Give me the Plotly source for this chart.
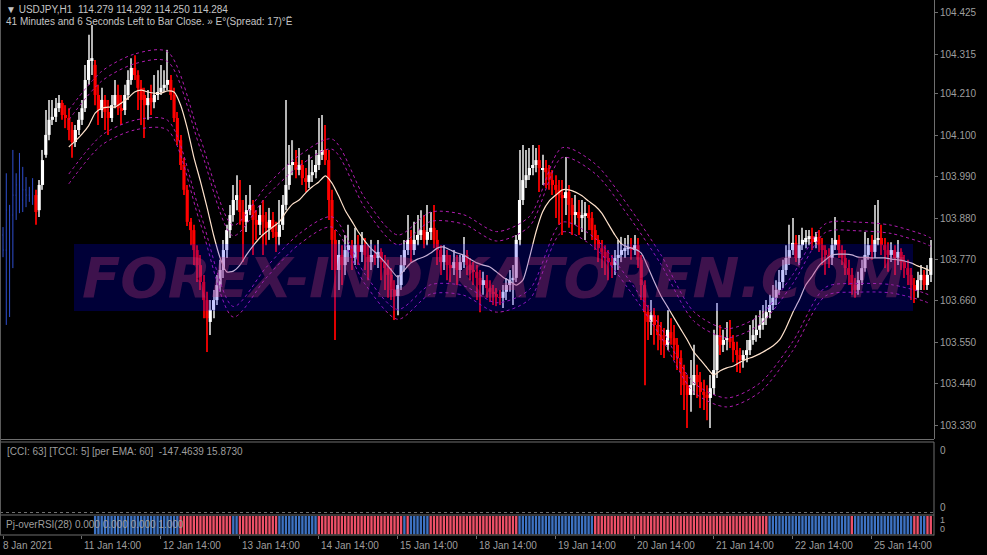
import plotly.graph_objects as go

W, H = 987, 555

# ---------------- data ----------------
opens = [
    103.835, 103.795, 103.901, 103.888, 103.941, 103.968, 103.928, 103.955, 103.941, 103.933,
    103.941, 103.901, 103.968, 104.048, 104.101, 104.141, 104.149, 104.172, 104.186, 104.154,
    104.146, 104.114, 104.082, 104.114, 104.141, 104.172, 104.247, 104.300, 104.287, 104.207,
    104.167, 104.194, 104.162, 104.146, 104.180, 104.207, 104.172, 104.167, 104.207, 104.247,
    104.279, 104.260, 104.226, 104.207, 104.180, 104.199, 104.188, 104.207, 104.215, 104.226,
    104.234, 104.247, 104.207, 104.146, 104.087, 104.021, 103.955, 103.870, 103.848, 103.795,
    103.755, 103.710, 103.662, 103.604, 103.636, 103.662, 103.702, 103.742, 103.795, 103.848,
    103.888, 103.928, 103.928, 103.896, 103.870, 103.901, 103.915, 103.875, 103.862, 103.888,
    103.870, 103.854, 103.875, 103.843, 103.830, 103.862, 103.915, 103.968, 104.021, 104.029,
    104.008, 104.021, 103.986, 103.976, 103.994, 104.002, 104.021, 104.048, 104.061, 104.034,
    103.928, 103.822, 103.742, 103.782, 103.755, 103.795, 103.808, 103.774, 103.808, 103.790,
    103.808, 103.782, 103.763, 103.782, 103.774, 103.790, 103.763, 103.747, 103.729, 103.689,
    103.673, 103.702, 103.755, 103.795, 103.822, 103.795, 103.822, 103.835, 103.848, 103.822,
    103.843, 103.854, 103.822, 103.795, 103.763, 103.782, 103.755, 103.747, 103.763, 103.742,
    103.763, 103.782, 103.755, 103.742, 103.737, 103.721, 103.702, 103.715, 103.694, 103.684,
    103.678, 103.670, 103.668, 103.684, 103.702, 103.715, 103.721, 103.822, 103.928, 103.981,
    103.994, 104.013, 104.021, 104.034, 104.008, 104.013, 104.002, 103.981, 103.968, 103.955,
    103.941, 103.933, 103.949, 103.915, 103.888, 103.896, 103.880, 103.888, 103.893, 103.880,
    103.848, 103.822, 103.800, 103.790, 103.774, 103.763, 103.755, 103.774, 103.782, 103.795,
    103.800, 103.803, 103.795, 103.808, 103.769, 103.702, 103.630, 103.604, 103.622, 103.596,
    103.569, 103.556, 103.543, 103.577, 103.561, 103.543, 103.508, 103.471, 103.436, 103.410,
    103.436, 103.463, 103.444, 103.418, 103.410, 103.402, 103.428, 103.476, 103.569, 103.543,
    103.556, 103.561, 103.551, 103.529, 103.516, 103.503, 103.516, 103.529, 103.556, 103.569,
    103.583, 103.596, 103.614, 103.630, 103.649, 103.668, 103.689, 103.710, 103.742, 103.774,
    103.795, 103.814, 103.774, 103.808, 103.816, 103.827, 103.832, 103.816, 103.830, 103.808,
    103.795, 103.782, 103.774, 103.808, 103.822, 103.795, 103.774, 103.747, 103.729, 103.702,
    103.689, 103.715, 103.747, 103.782, 103.808, 103.790, 103.822, 103.827, 103.808, 103.795,
    103.782, 103.795, 103.774, 103.790, 103.763, 103.747, 103.729, 103.702, 103.689, 103.715,
    103.729, 103.702, 103.729,
]
highs = [
    103.856, 103.999, 103.915, 104.061, 103.999, 104.053, 104.016, 103.989, 103.963, 103.986,
    103.955, 103.981, 104.061, 104.167, 104.194, 104.194, 104.199, 104.207, 104.194, 104.180,
    104.172, 104.135, 104.127, 104.162, 104.194, 104.287, 104.367, 104.393, 104.300, 104.234,
    104.226, 104.207, 104.194, 104.207, 104.247, 104.234, 104.207, 104.234, 104.273, 104.305,
    104.313, 104.273, 104.247, 104.226, 104.220, 104.234, 104.260, 104.273, 104.287, 104.273,
    104.327, 104.260, 104.226, 104.162, 104.101, 104.040, 103.968, 103.880, 103.862, 103.808,
    103.782, 103.729, 103.684, 103.662, 103.689, 103.729, 103.769, 103.822, 103.862, 103.915,
    103.968, 103.994, 103.981, 103.928, 103.941, 103.968, 103.928, 103.901, 103.915, 103.928,
    103.896, 103.907, 103.896, 103.870, 103.928, 103.941, 104.194, 104.074, 104.087, 104.061,
    104.066, 104.034, 104.013, 104.048, 104.034, 104.061, 104.146, 104.154, 104.127, 104.061,
    103.955, 103.848, 103.822, 103.808, 103.835, 103.862, 103.822, 103.854, 103.835, 103.843,
    103.827, 103.808, 103.822, 103.808, 103.822, 103.800, 103.782, 103.769, 103.747, 103.715,
    103.729, 103.782, 103.822, 103.888, 103.848, 103.870, 103.888, 103.901, 103.888, 103.915,
    103.896, 103.915, 103.848, 103.808, 103.808, 103.795, 103.782, 103.795, 103.782, 103.782,
    103.830, 103.795, 103.774, 103.763, 103.755, 103.742, 103.737, 103.729, 103.715, 103.702,
    103.694, 103.689, 103.702, 103.721, 103.742, 103.755, 103.835, 104.061, 104.074, 104.061,
    104.066, 104.074, 104.066, 104.074, 104.048, 104.034, 104.021, 104.008, 103.994, 103.981,
    103.981, 104.042, 103.968, 103.933, 103.941, 103.928, 103.928, 103.923, 103.915, 103.896,
    103.862, 103.835, 103.822, 103.808, 103.795, 103.782, 103.795, 103.822, 103.830, 103.827,
    103.835, 103.827, 103.835, 103.827, 103.782, 103.715, 103.649, 103.662, 103.641, 103.622,
    103.604, 103.588, 103.636, 103.614, 103.596, 103.561, 103.529, 103.490, 103.463, 103.503,
    103.543, 103.490, 103.471, 103.450, 103.436, 103.463, 103.583, 103.654, 103.596, 103.583,
    103.604, 103.609, 103.569, 103.551, 103.535, 103.529, 103.556, 103.596, 103.609, 103.622,
    103.636, 103.649, 103.662, 103.676, 103.702, 103.715, 103.742, 103.769, 103.808, 103.862,
    103.880, 103.835, 103.835, 103.854, 103.848, 103.848, 103.854, 103.843, 103.848, 103.827,
    103.808, 103.800, 103.827, 103.883, 103.835, 103.808, 103.795, 103.769, 103.747, 103.721,
    103.737, 103.769, 103.843, 103.827, 103.835, 103.915, 103.928, 103.862, 103.827, 103.816,
    103.816, 103.808, 103.822, 103.800, 103.782, 103.769, 103.747, 103.721, 103.737, 103.755,
    103.742, 103.755, 103.822,
]
lows = [
    103.776, 103.596, 103.617, 103.747, 103.875, 103.893, 103.896, 103.909, 103.923, 103.915,
    103.862, 103.883, 103.955, 104.040, 104.087, 104.127, 104.135, 104.162, 104.141, 104.119,
    104.087, 104.040, 104.069, 104.101, 104.127, 104.162, 104.234, 104.260, 104.180, 104.127,
    104.146, 104.114, 104.101, 104.135, 104.172, 104.154, 104.127, 104.154, 104.194, 104.234,
    104.247, 104.167, 104.127, 104.093, 104.141, 104.154, 104.172, 104.194, 104.207, 104.215,
    104.220, 104.194, 104.135, 104.074, 104.008, 103.941, 103.859, 103.808, 103.755, 103.710,
    103.689, 103.614, 103.524, 103.569, 103.614, 103.649, 103.684, 103.721, 103.774, 103.827,
    103.870, 103.901, 103.862, 103.763, 103.843, 103.888, 103.782, 103.822, 103.835, 103.782,
    103.808, 103.822, 103.827, 103.790, 103.808, 103.848, 103.901, 103.955, 103.994, 103.986,
    103.994, 103.968, 103.949, 103.960, 103.976, 103.986, 104.008, 104.034, 104.021, 103.875,
    103.742, 103.556, 103.689, 103.702, 103.729, 103.763, 103.742, 103.755, 103.755, 103.763,
    103.742, 103.715, 103.742, 103.755, 103.747, 103.715, 103.689, 103.668, 103.662, 103.609,
    103.622, 103.689, 103.737, 103.782, 103.763, 103.782, 103.808, 103.822, 103.800, 103.808,
    103.822, 103.800, 103.755, 103.729, 103.742, 103.715, 103.710, 103.729, 103.702, 103.721,
    103.747, 103.729, 103.715, 103.702, 103.662, 103.630, 103.676, 103.668, 103.657, 103.649,
    103.646, 103.649, 103.641, 103.662, 103.684, 103.649, 103.710, 103.808, 103.915, 103.960,
    103.981, 103.994, 104.002, 103.949, 103.968, 103.960, 103.955, 103.941, 103.880, 103.862,
    103.835, 103.888, 103.854, 103.835, 103.862, 103.835, 103.843, 103.822, 103.848, 103.822,
    103.795, 103.763, 103.747, 103.729, 103.715, 103.721, 103.729, 103.742, 103.763, 103.774,
    103.782, 103.769, 103.782, 103.747, 103.662, 103.436, 103.556, 103.569, 103.543, 103.529,
    103.516, 103.508, 103.529, 103.543, 103.503, 103.476, 103.410, 103.370, 103.322, 103.365,
    103.410, 103.402, 103.375, 103.370, 103.343, 103.322, 103.410, 103.455, 103.516, 103.524,
    103.529, 103.535, 103.497, 103.471, 103.468, 103.482, 103.497, 103.516, 103.543, 103.551,
    103.561, 103.583, 103.596, 103.614, 103.636, 103.649, 103.676, 103.694, 103.729, 103.755,
    103.782, 103.763, 103.755, 103.795, 103.800, 103.808, 103.795, 103.800, 103.790, 103.755,
    103.729, 103.747, 103.755, 103.795, 103.774, 103.755, 103.729, 103.702, 103.676, 103.668,
    103.676, 103.702, 103.737, 103.769, 103.769, 103.774, 103.808, 103.782, 103.747, 103.737,
    103.763, 103.729, 103.755, 103.742, 103.721, 103.702, 103.662, 103.654, 103.668, 103.689,
    103.689, 103.689, 103.710,
]
closes = [
    103.795, 103.901, 103.888, 103.941, 103.968, 103.928, 103.955, 103.941, 103.933, 103.941,
    103.896, 103.968, 104.034, 104.101, 104.141, 104.149, 104.172, 104.186, 104.154, 104.146,
    104.114, 104.082, 104.114, 104.141, 104.172, 104.247, 104.300, 104.305, 104.207, 104.167,
    104.194, 104.162, 104.146, 104.180, 104.207, 104.172, 104.167, 104.207, 104.247, 104.279,
    104.260, 104.226, 104.194, 104.180, 104.199, 104.188, 104.207, 104.215, 104.226, 104.234,
    104.247, 104.207, 104.146, 104.087, 104.021, 103.955, 103.870, 103.848, 103.795, 103.755,
    103.710, 103.662, 103.614, 103.636, 103.662, 103.702, 103.742, 103.795, 103.848, 103.888,
    103.928, 103.941, 103.896, 103.870, 103.901, 103.915, 103.875, 103.862, 103.888, 103.870,
    103.854, 103.875, 103.843, 103.830, 103.862, 103.915, 103.968, 104.021, 104.029, 104.008,
    104.021, 103.986, 103.976, 103.994, 104.002, 104.021, 104.048, 104.061, 104.034, 103.928,
    103.822, 103.742, 103.782, 103.755, 103.795, 103.808, 103.774, 103.808, 103.790, 103.808,
    103.782, 103.763, 103.782, 103.774, 103.790, 103.763, 103.747, 103.729, 103.689, 103.673,
    103.702, 103.755, 103.795, 103.822, 103.795, 103.822, 103.835, 103.848, 103.822, 103.843,
    103.854, 103.822, 103.795, 103.763, 103.782, 103.755, 103.747, 103.763, 103.742, 103.763,
    103.782, 103.755, 103.742, 103.737, 103.721, 103.702, 103.715, 103.694, 103.684, 103.678,
    103.670, 103.668, 103.684, 103.702, 103.715, 103.721, 103.822, 103.928, 103.981, 103.994,
    104.013, 104.021, 104.034, 104.013, 104.013, 104.002, 103.981, 103.968, 103.955, 103.941,
    103.933, 103.949, 103.915, 103.888, 103.896, 103.880, 103.888, 103.893, 103.880, 103.848,
    103.822, 103.800, 103.790, 103.774, 103.763, 103.755, 103.774, 103.782, 103.795, 103.800,
    103.803, 103.795, 103.808, 103.769, 103.702, 103.630, 103.604, 103.622, 103.596, 103.569,
    103.556, 103.543, 103.583, 103.561, 103.543, 103.508, 103.471, 103.436, 103.410, 103.436,
    103.463, 103.444, 103.418, 103.410, 103.402, 103.428, 103.476, 103.569, 103.543, 103.556,
    103.561, 103.551, 103.529, 103.516, 103.503, 103.516, 103.529, 103.556, 103.569, 103.583,
    103.596, 103.614, 103.630, 103.649, 103.668, 103.689, 103.710, 103.742, 103.774, 103.795,
    103.814, 103.774, 103.808, 103.822, 103.827, 103.832, 103.816, 103.830, 103.808, 103.795,
    103.782, 103.774, 103.808, 103.822, 103.795, 103.774, 103.747, 103.729, 103.702, 103.689,
    103.715, 103.747, 103.782, 103.808, 103.790, 103.822, 103.827, 103.808, 103.795, 103.782,
    103.795, 103.774, 103.790, 103.763, 103.747, 103.729, 103.702, 103.689, 103.715, 103.729,
    103.702, 103.729, 103.774,
]
first_painted_bar = 10   # bars before this are plain (blue) chart bars

# centre line of the band indicator, read every 2 bars from bar 20 to 282
center_bars = list(range(20, 283, 2))
center_vals = [
    104.069, 104.085, 104.103, 104.125, 104.159, 104.172, 104.175, 104.175, 104.186, 104.199,
    104.215, 104.220, 104.215, 104.212, 104.212, 104.218, 104.215, 104.180, 104.119, 104.042,
    103.978, 103.909, 103.835, 103.774, 103.737, 103.739, 103.755, 103.782, 103.806, 103.827,
    103.843, 103.856, 103.870, 103.896, 103.917, 103.928, 103.947, 103.963, 103.976, 103.992,
    103.973, 103.939, 103.901, 103.872, 103.843, 103.819, 103.798, 103.782, 103.763, 103.742,
    103.723, 103.742, 103.761, 103.771, 103.777, 103.787, 103.800, 103.803, 103.795, 103.787,
    103.782, 103.771, 103.761, 103.755, 103.750, 103.737, 103.723, 103.713, 103.702, 103.715,
    103.774, 103.843, 103.896, 103.925, 103.941, 103.955, 103.955, 103.949, 103.939, 103.925,
    103.912, 103.893, 103.864, 103.835, 103.811, 103.803, 103.798, 103.787, 103.750, 103.710,
    103.673, 103.644, 103.614, 103.585, 103.556, 103.524, 103.503, 103.482, 103.463, 103.474,
    103.482, 103.487, 103.497, 103.505, 103.511, 103.519, 103.529, 103.540, 103.556, 103.588,
    103.628, 103.662, 103.702, 103.726, 103.753, 103.769, 103.782, 103.784, 103.784, 103.782,
    103.776, 103.776, 103.774, 103.774, 103.774, 103.771, 103.769, 103.766, 103.761, 103.753,
    103.747, 103.739,
]
# dotted envelope half-widths (price units), read every 10 bars
band_bars = [20, 30, 40, 50, 60, 70, 80, 90, 100, 110, 120, 130, 140, 150, 160,
             170, 180, 190, 200, 210, 220, 230, 240, 250, 260, 270, 280, 282]
band_inner = [0.072, 0.072, 0.075, 0.078, 0.086, 0.094, 0.094, 0.090, 0.090, 0.088, 0.086, 0.084, 0.082, 0.082,
              0.084, 0.086, 0.086, 0.084, 0.084, 0.082, 0.080, 0.078, 0.077, 0.073, 0.070, 0.068, 0.066, 0.066]
band_outer = [0.098, 0.098, 0.101, 0.104, 0.113, 0.122, 0.122, 0.118, 0.117, 0.114, 0.112, 0.109, 0.107, 0.107,
              0.110, 0.112, 0.112, 0.110, 0.109, 0.107, 0.104, 0.102, 0.101, 0.096, 0.093, 0.090, 0.088, 0.088]

# Pj-overRSI colour state: segments start bar and state (1 = red, 0 = blue)
rsi_seg_start = [28, 54, 70, 72, 84, 96, 122, 123, 124, 130, 157, 180, 233, 258, 259, 277, 279, 281]
rsi_seg_state = [0, 1, 0, 1, 0, 1, 0, 1, 0, 1, 0, 1, 0, 1, 0, 1, 0, 1]
rsi_last_bar = 282

price_ticks = [104.425, 104.315, 104.210, 104.100, 103.990, 103.880, 103.770, 103.660, 103.550, 103.440, 103.330]
time_tick_bars = [0, 24, 48, 72, 96, 120, 144, 168, 192, 216, 240, 264]
time_tick_labels = ["8 Jan 2021", "11 Jan 14:00", "12 Jan 14:00", "13 Jan 14:00", "14 Jan 14:00",
                    "15 Jan 14:00", "18 Jan 14:00", "19 Jan 14:00", "20 Jan 14:00", "21 Jan 14:00",
                    "22 Jan 14:00", "25 Jan 14:00"]

# ---------------- figure ----------------
FONT = "Liberation Sans"
GRAY = "#9E9E9E"
LINE = "#6E6E6E"

def fx(px):
    return px / W

def fy(py):
    return 1 - py / H

x_right = 934
x_range = [-0.912, (x_right - 3) / 3.29]

fig = go.Figure()

n = len(closes)
bars = list(range(n))
p0 = first_painted_bar

# plain chart bars before the painted section
fig.add_trace(go.Ohlc(
    x=bars[:p0], open=opens[:p0], high=highs[:p0], low=lows[:p0], close=closes[:p0],
    increasing=dict(line=dict(color="#2F4FD0", width=1)),
    decreasing=dict(line=dict(color="#2F4FD0", width=1)),
    tickwidth=0.15, hoverinfo="skip", showlegend=False,
))

# painted candles: wicks and bodies as floating bars
cx = bars[p0:]
up = [c >= o for o, c in zip(opens[p0:], closes[p0:])]
fig.add_trace(go.Bar(
    x=cx, base=lows[p0:], y=[h - l for h, l in zip(highs[p0:], lows[p0:])],
    width=0.32, marker=dict(color=["#B4B4B4" if u else "#E00000" for u in up], line=dict(width=0)),
    hoverinfo="skip", showlegend=False,
))
fig.add_trace(go.Bar(
    x=cx, base=[min(o, c) for o, c in zip(opens[p0:], closes[p0:])],
    y=[max(abs(c - o), 0.0012) for o, c in zip(opens[p0:], closes[p0:])],
    width=0.96, marker=dict(color=["#FFFFFF" if u else "#FF0000" for u in up], line=dict(width=0)),
    hoverinfo="skip", showlegend=False,
))

center_at = dict(zip(center_bars, center_vals))
band_mid = [center_at[b] for b in band_bars]
up_out = [c + w for c, w in zip(band_mid, band_outer)]
up_in = [c + w for c, w in zip(band_mid, band_inner)]
lo_in = [c - w for c, w in zip(band_mid, band_inner)]
lo_out = [c - w for c, w in zip(band_mid, band_outer)]
for yy in (up_out, up_in, lo_in, lo_out):
    fig.add_trace(go.Scatter(
        x=band_bars, y=yy, mode="lines",
        line=dict(color="#B01CB0", width=1, dash="dot", shape="spline", smoothing=0.8),
        hoverinfo="skip", showlegend=False,
    ))
fig.add_trace(go.Scatter(
    x=center_bars, y=center_vals, mode="lines",
    line=dict(color="#FFE2CC", width=1.2, shape="spline", smoothing=0.6),
    hoverinfo="skip", showlegend=False,
))

# RSI colour strip
rsi_x, rsi_c = [], []
for k, s in enumerate(rsi_seg_start):
    e = rsi_seg_start[k + 1] - 1 if k + 1 < len(rsi_seg_start) else rsi_last_bar
    for b in range(s, e + 1):
        rsi_x.append(b)
        rsi_c.append("#EE5068" if rsi_seg_state[k] == 1 else "#3D72C2")
fig.add_trace(go.Bar(
    x=rsi_x, y=[1] * len(rsi_x), marker=dict(color=rsi_c, line=dict(width=0)),
    width=0.72, xaxis="x2", yaxis="y2", hoverinfo="skip", showlegend=False,
))

main_dom = [fy(439), 1]
rsi_dom = [fy(534.5), fy(516)]
y_top = 104.4595
y_bot = y_top - 439 * 0.0026575

fig.update_layout(
    width=W, height=H, margin=dict(l=0, r=0, t=0, b=0),
    paper_bgcolor="#000000", plot_bgcolor="#000000",
    barmode="overlay",
    font=dict(family=FONT, size=10, color=GRAY),
    xaxis=dict(domain=[0, fx(x_right)], range=x_range, showgrid=False, zeroline=False,
               showticklabels=False, rangeslider=dict(visible=False), anchor="y"),
    yaxis=dict(domain=main_dom, range=[y_bot, y_top], side="right", anchor="x",
               tickvals=price_ticks, ticktext=["%.3f" % v for v in price_ticks],
               ticks="outside", ticklen=3, tickcolor=LINE, showline=True, linecolor=LINE,
               linewidth=1, showgrid=False, zeroline=False,
               tickfont=dict(family=FONT, size=10, color=GRAY)),
    xaxis2=dict(domain=[0, fx(x_right)], range=x_range, anchor="y2", showgrid=False,
                zeroline=False, tickvals=time_tick_bars, ticktext=[""] * len(time_tick_bars),
                ticks="outside", ticklen=3, tickcolor=LINE, showline=False),
    yaxis2=dict(domain=rsi_dom, range=[0, 1], anchor="x2", showgrid=False, zeroline=False,
                showticklabels=False),
    showlegend=False,
)

shapes = []
def hline(py, x0=0, x1=x_right, dash="solid", color=LINE):
    shapes.append(dict(type="line", xref="paper", yref="paper", x0=fx(x0), x1=fx(x1),
                       y0=fy(py), y1=fy(py), line=dict(color=color, width=1, dash=dash)))
hline(439.5)
hline(442)
hline(512.5, dash="dot")
hline(515)
hline(535)
shapes.append(dict(type="line", xref="paper", yref="paper", x0=fx(x_right), x1=fx(x_right),
                   y0=fy(442), y1=fy(535.5), line=dict(color=LINE, width=1)))
shapes.append(dict(type="line", xref="paper", yref="paper", x0=fx(0.5), x1=fx(0.5),
                   y0=fy(0), y1=fy(535), line=dict(color="#5A5A5A", width=1)))
# watermark box
shapes.append(dict(type="rect", xref="paper", yref="paper", x0=fx(74), x1=fx(913),
                   y0=fy(311), y1=fy(244), line=dict(width=0),
                   fillcolor="rgba(0,0,255,0.22)", layer="above"))
fig.update_layout(shapes=shapes)

ann = []
def text(s, px, py, size=10, color=GRAY, anchor="left", family=FONT):
    ann.append(dict(text=s, x=fx(px), y=fy(py), xref="paper", yref="paper",
                    xanchor=anchor, yanchor="middle", showarrow=False,
                    font=dict(family=family, size=size, color=color)))

text("\u25BC USDJPY,H1\u00a0\u00a0114.279 114.292 114.250 114.284", 4, 9.5, color="#C4C4C4")
text("41 Minutes and 6 Seconds Left to Bar Close. \u00bb E\u00b0(Spread: 17)\u00b0\u00cb", 4, 21.5, color="#C4C4C4")
text("[CCI: 63] [TCCI: 5] [per EMA: 60]\u00a0\u00a0-147.4639 15.8730", 5, 451.5)
text("Pj-overRSI(28) 0.000 0.000 0.000 1.000", 4, 524)
text("0", 938, 450)
text("0", 938, 507)
text("1", 938, 519.5, size=9)
text("0", 938, 528.5, size=9)

ann.append(dict(text="<b><i>FOREX-INDIKATOREN.COM</i></b>", x=fx(493), y=fy(277),
                xref="paper", yref="paper", xanchor="center", yanchor="middle",
                showarrow=False,
                font=dict(family="DejaVu Sans", size=56, color="rgba(205,60,125,0.30)")))

for b, lab in zip(time_tick_bars, time_tick_labels):
    ann.append(dict(text=lab, x=b, y=fy(545), xref="x2", yref="paper",
                    xanchor="left", yanchor="middle", xshift=(-2 if b == 0 else 0),
                    showarrow=False, font=dict(family=FONT, size=10, color=GRAY)))

fig.update_layout(annotations=ann)
fig.write_html("out.html", config={"displayModeBar": False},
               post_script="document.body.style.margin='0';document.body.style.padding='0';")
